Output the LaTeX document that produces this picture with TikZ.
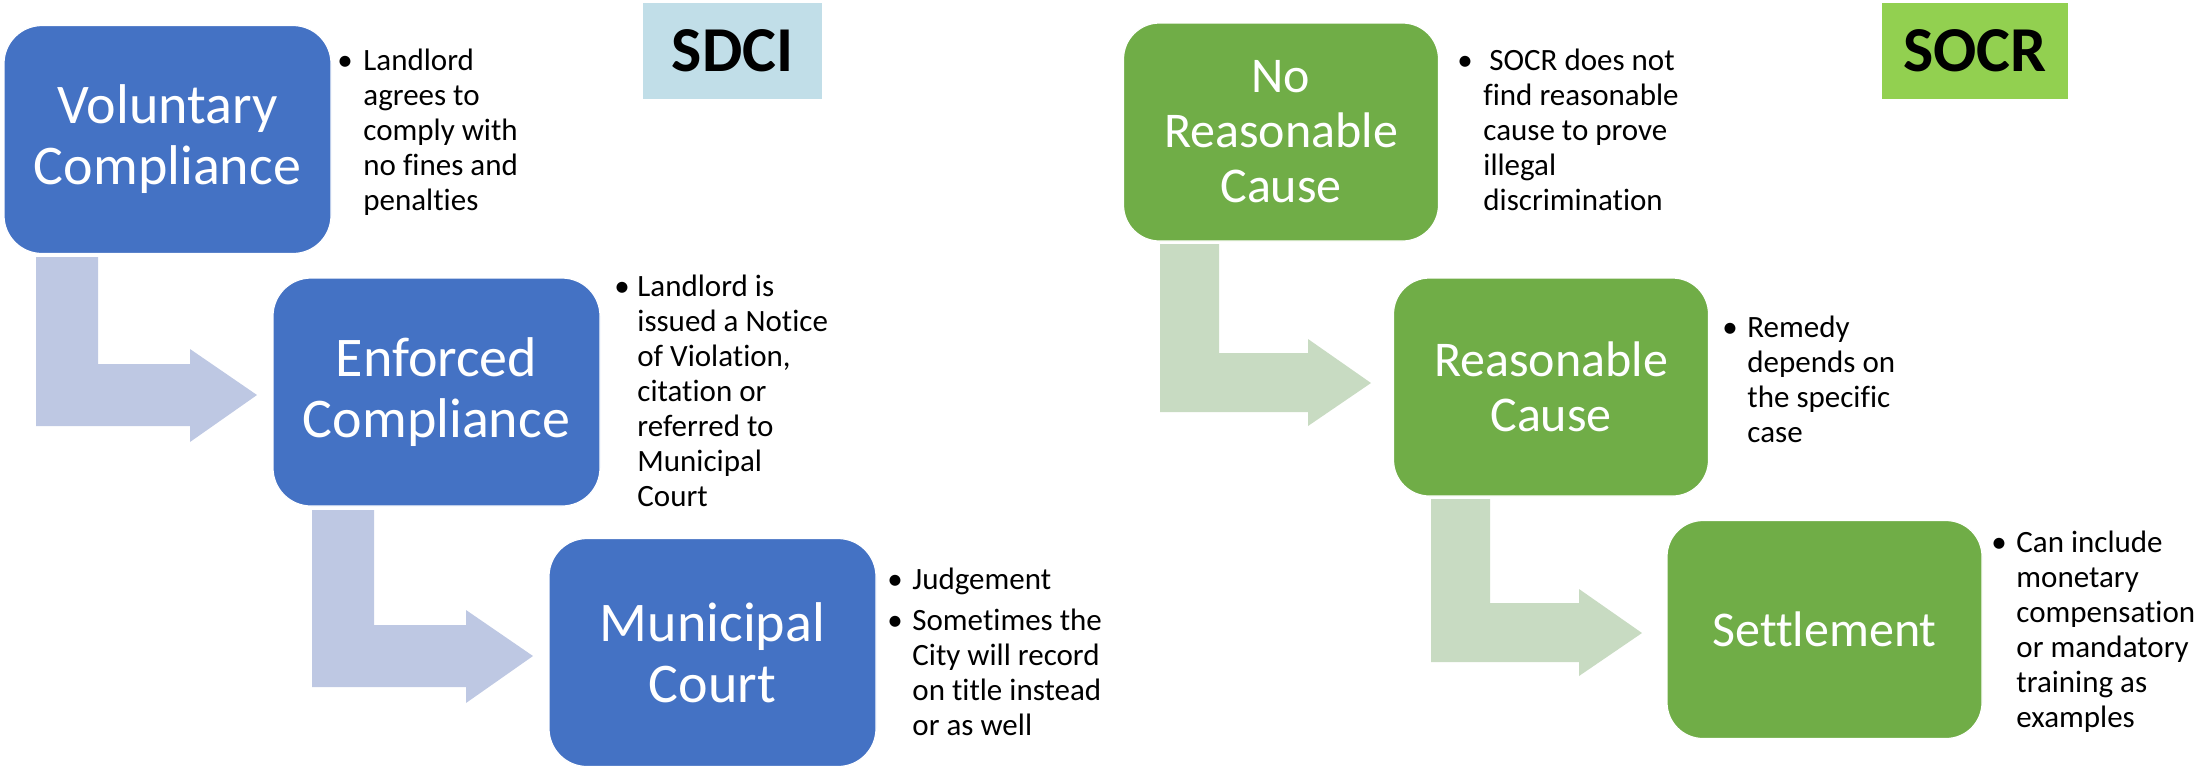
\documentclass[tikz,border=0pt]{standalone}
\usepackage{fontspec}
\setmainfont{Carlito}[Ligatures=NoCommon]
\definecolor{bluebox}{HTML}{4472C4}
\definecolor{bluearrow}{RGB}{190,200,227}
\definecolor{greenbox}{HTML}{70AD47}
\definecolor{greenarrow}{RGB}{200,219,194}
\definecolor{sdcibg}{RGB}{193,222,232}
\definecolor{socrbg}{HTML}{92D050}
\begin{document}
\begin{tikzpicture}[x=0.5pt,y=-0.5pt,
  bluestep/.style={rounded corners=19pt, fill=bluebox, draw=white, line width=0.6pt,
    minimum width=163.5pt, minimum height=114pt, text=white, align=center, inner sep=0pt,
    font=\fontsize{28}{30.5}\selectfont},
  greenstep/.style={rounded corners=18pt, fill=greenbox, draw=white, line width=0.6pt,
    minimum width=157.5pt, minimum height=109pt, text=white, align=center, inner sep=0pt,
    font=\fontsize{25}{27.5}\selectfont},
  tag/.style={minimum width=#1, minimum height=48pt, inner sep=0pt,
    font=\fontsize{32}{34}\selectfont\bfseries},
  bul/.style={anchor=base, inner sep=0pt, font=\fontsize{15.5}{17.5}\selectfont},
  desc/.style={anchor=base west, inner sep=0pt, align=left, font=\fontsize{15.5}{17.5}\selectfont},
  bluebent/.style={fill=bluearrow},
  greenbent/.style={fill=greenarrow}]
\useasboundingbox (0,0) rectangle (2200,768);

% bent arrows (left)
\path[bluebent] (36,257) -- (98,257) -- (98,364) -- (190,364) -- (190,349) -- (257,395)
  -- (190,442) -- (190,426) -- (36,426) -- cycle;
\path[bluebent] (312,510) -- (374,510) -- (374,625) -- (466,625) -- (466,610) -- (533,656)
  -- (466,703) -- (466,687) -- (312,687) -- cycle;
% bent arrows (right)
\path[greenbent] (1160,244) -- (1219,244) -- (1219,353) -- (1308,353) -- (1308,339) -- (1371,383)
  -- (1308,426) -- (1308,412) -- (1160,412) -- cycle;
\path[greenbent] (1431,499) -- (1490,499) -- (1490,603) -- (1579,603) -- (1579,589) -- (1642,633)
  -- (1579,676) -- (1579,662) -- (1431,662) -- cycle;

% labels
\node[tag=89.5pt, fill=sdcibg] (sdci) at (732.5,51) {SDCI};
\node[tag=93pt, fill=socrbg] (socr) at (1975,50.5) {SOCR};

% blue steps
\node[bluestep] (vc) at (167.5,139.5) {Voluntary\\Compliance};
\node[bluestep] (ec) at (436.5,392) {Enforced\\Compliance};
\node[bluestep] (mc) at (712.5,652.5) {Municipal\\Court};

% green steps
\node[greenstep] (nrc) at (1281,132) {No\\Reasonable\\Cause};
\node[greenstep] (rc) at (1551,387) {Reasonable\\Cause};
\node[greenstep] (st) at (1824.5,629.5) {Settlement};

% descriptions left
\node[bul] (b1) at (345,70) {\textbullet};
\node[desc] (d1) at (363,70) {\begin{tabular}[t]{@{}l@{}}Landlord\\agrees to\\comply with\\no fines and\\penalties\end{tabular}};
\node[bul] (b2) at (622,296) {\textbullet};
\node[desc] (d2) at (637,296) {\begin{tabular}[t]{@{}l@{}}Landlord is\\issued a Notice\\of Violation,\\citation or\\referred to\\Municipal\\Court\end{tabular}};
\node[bul] (b3) at (895,589) {\textbullet};
\node[desc] (d3) at (912,589) {Judgement};
\node[bul] (b4) at (895,630) {\textbullet};
\node[desc] (d4) at (912,630) {\begin{tabular}[t]{@{}l@{}}Sometimes the\\City will record\\on title instead\\or as well\end{tabular}};

% descriptions right
\node[bul] (b5) at (1465,70) {\textbullet};
\node[desc] (d5) at (1483,70) {\begin{tabular}[t]{@{}l@{}}\hspace{3pt}SOCR does not\\find reasonable\\cause to prove\\illegal\\discrimination\end{tabular}};
\node[bul] (b6) at (1730,337) {\textbullet};
\node[desc] (d6) at (1747,337) {\begin{tabular}[t]{@{}l@{}}Remedy\\depends on\\the specific\\case\end{tabular}};
\node[bul] (b7) at (1999,552) {\textbullet};
\node[desc] (d7) at (2016,552) {\begin{tabular}[t]{@{}l@{}}Can include\\monetary\\compensation\\or mandatory\\training as\\examples\end{tabular}};
\end{tikzpicture}
\end{document}
